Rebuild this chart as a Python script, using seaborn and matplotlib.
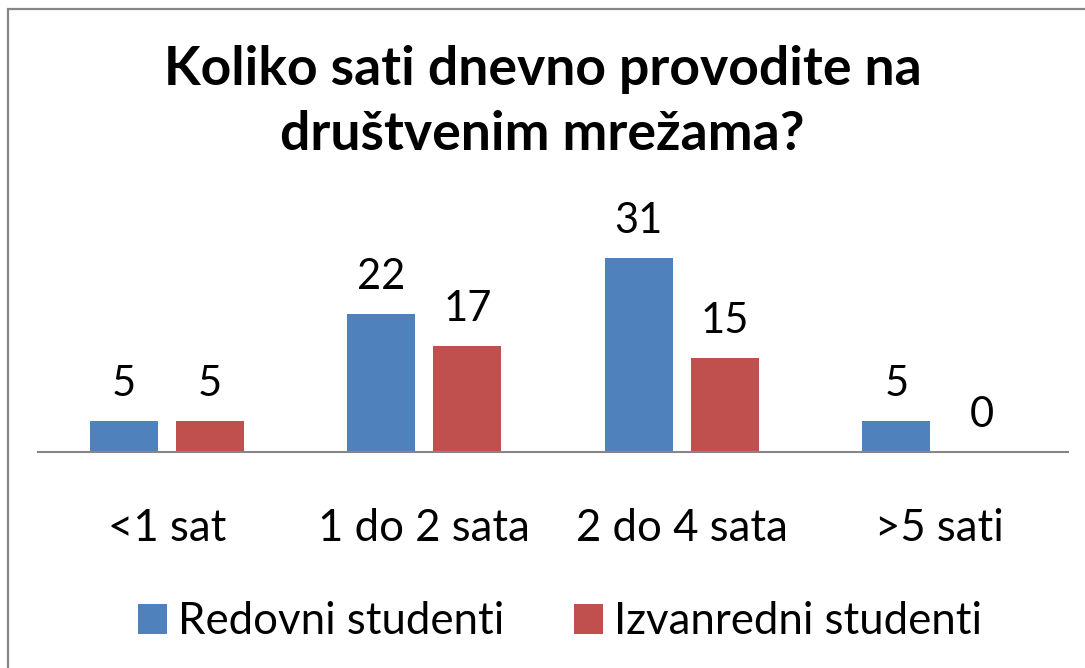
import matplotlib
matplotlib.use("Agg")
import matplotlib.pyplot as plt
import seaborn as sns
import pandas as pd
from matplotlib.patches import Rectangle, Patch

categories = ["<1 sat", "1 do 2 sata", "2 do 4 sata", ">5 sati"]
series_names = ["Redovni studenti", "Izvanredni studenti"]
redovni = [5, 22, 31, 5]
izvanredni = [5, 17, 15, 0]
colors = ["#4F81BD", "#C0504D"]
title = "Koliko sati dnevno provodite na\ndruštvenim mrežama?"

sns.set_theme(style="white")
plt.rcParams["font.family"] = ["Lato", "DejaVu Sans"]
plt.rcParams["text.color"] = "black"
plt.rcParams["xtick.color"] = "black"

df = pd.DataFrame({
    "kategorija": categories * 2,
    "serija": [series_names[0]] * len(categories) + [series_names[1]] * len(categories),
    "vrijednost": redovni + izvanredni,
})

W, H = 1085, 668
fig = plt.figure(figsize=(W / 100, H / 100), dpi=100)
fig.patch.set_facecolor("white")

left, right, base, top = 38, 1068, 452, 233
ax = fig.add_axes([left / W, 1 - base / H, (right - left) / W, (base - top) / H])

sns.barplot(data=df, x="kategorija", y="vrijednost", hue="serija",
            palette=colors, saturation=1, width=0.668, gap=0.21, linewidth=0,
            ax=ax, legend=False)
ax.set_ylim(0, 35)
ax.set_xlim(-0.5, len(categories) - 0.5)

for cont in ax.containers:
    ax.bar_label(cont, fmt="%d", padding=13, fontsize=30, color="black")

for s in ["top", "left", "right"]:
    ax.spines[s].set_visible(False)
ax.spines["bottom"].set_color("#868686")
ax.spines["bottom"].set_linewidth(1.5)
ax.set_yticks([])
ax.set_xlabel("")
ax.set_ylabel("")
ax.tick_params(axis="x", length=0, pad=40, labelsize=31.5, labelcolor="black")

fig.text(0.5, 1 - 102 / H, title, ha="center", va="center", fontsize=38.5,
         fontweight="bold", linespacing=1.38, color="black")

handles = [Patch(facecolor=c, edgecolor="none") for c in colors]
fig.legend(handles, series_names, loc="center", bbox_to_anchor=(560 / W, 1 - 622 / H),
           ncol=2, frameon=False, fontsize=31.5, handlelength=0.68, handleheight=0.68,
           handletextpad=0.25, columnspacing=1.58, labelcolor="black")

fig.patches.append(Rectangle((8 / W, -0.05), 1.2, 1 - 9 / H + 0.05,
                             transform=fig.transFigure, fill=False,
                             edgecolor="#868686", linewidth=1.6))

fig.savefig("out.png", dpi=100)
